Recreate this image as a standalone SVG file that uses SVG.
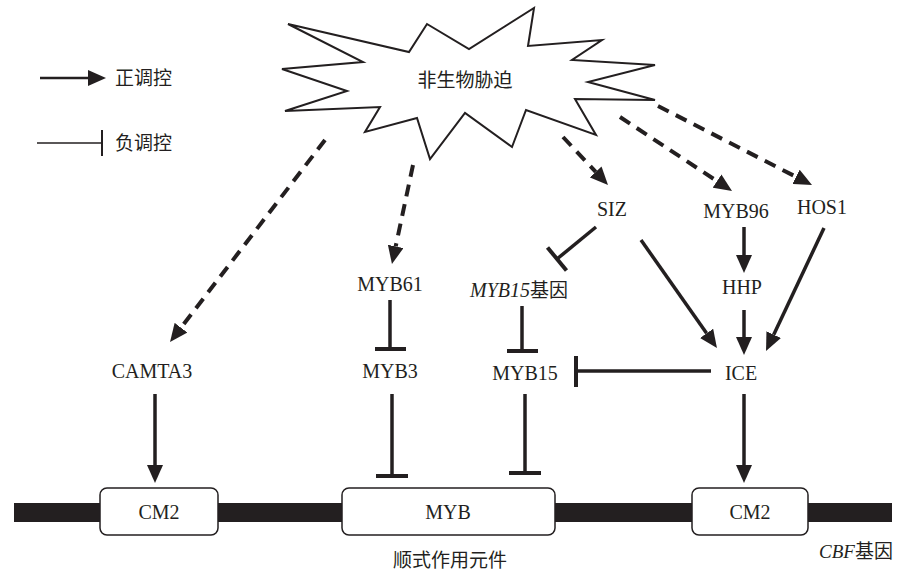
<svg xmlns="http://www.w3.org/2000/svg" width="901" height="578" viewBox="0 0 901 578">
<defs>
<marker id="ah" viewBox="0 0 18 16" refX="0" refY="8" markerWidth="18" markerHeight="16" markerUnits="userSpaceOnUse" orient="auto">
<path d="M0,0 L18,8 L0,16 z" fill="#231f20"/>
</marker>
</defs>
<style>
.lbl{font-family:"Liberation Serif","Noto Sans CJK SC",serif;font-size:20px;fill:#231f20;text-anchor:middle}
.cjk{font-family:"Noto Sans CJK SC","Liberation Sans",sans-serif;font-size:19px;fill:#231f20}
.pos{stroke:#231f20;stroke-width:3.5;fill:none;marker-end:url(#ah)}
.dash{stroke:#231f20;stroke-width:4;fill:none;stroke-dasharray:12 8;marker-end:url(#ah)}
.neg{stroke:#231f20;stroke-width:3.5;fill:none}
.bar{stroke:#231f20;stroke-width:4;fill:none}
.box{fill:#fff;stroke:#231f20;stroke-width:1.5}
</style>
<rect width="901" height="578" fill="#fff"/>

<g id="legend">
<line x1="40" y1="78" x2="89" y2="78" stroke="#231f20" stroke-width="2.5"/>
<path d="M88,70 L106,78 L88,86 z" fill="#231f20"/>
<text x="115" y="85" class="cjk">正调控</text>
<line x1="37" y1="143" x2="102" y2="143" stroke="#231f20" stroke-width="1.5"/>
<line x1="102" y1="130" x2="102" y2="156" stroke="#231f20" stroke-width="2"/>
<text x="115" y="150" class="cjk">负调控</text>
</g>

<g id="stress">
<polygon points="288,24 409,52 427,24 469,49 534,8 528,46 602,40 572,60 655,65 588,82 655,100 575,99 596,135 526,110 512,147 465,113 430,159 417,118 365,132 380,107 285,111 347,91 282,69 363,62" fill="#fff" stroke="#231f20" stroke-width="2" stroke-linejoin="miter"/>
<text x="465" y="87" class="cjk" font-size="20" text-anchor="middle">非生物胁迫</text>
</g>

<g id="dna">
<rect x="14" y="503" width="878" height="19" fill="#231f20"/>
<text x="450" y="567" class="cjk" font-size="18" text-anchor="middle">顺式作用元件</text>
<text x="893" y="558" class="cjk" font-size="18" text-anchor="end"><tspan font-family="Liberation Serif" font-style="italic" font-size="19">CBF</tspan>基因</text>
</g>
<g id="cm2a"><rect x="100" y="488" width="118" height="47" rx="7" class="box"/><text x="159" y="519" class="lbl">CM2</text></g>
<g id="myb"><rect x="342" y="488" width="213" height="47" rx="7" class="box"/><text x="448" y="519" class="lbl">MYB</text></g>
<g id="cm2b"><rect x="692" y="488" width="116" height="47" rx="7" class="box"/><text x="750" y="519" class="lbl">CM2</text></g>

<g id="siz"><text x="612" y="216" class="lbl">SIZ</text></g>
<g id="myb96"><text x="736" y="218" class="lbl">MYB96</text></g>
<g id="hos1"><text x="822" y="214" class="lbl">HOS1</text></g>
<g id="myb61"><text x="390" y="291" class="lbl">MYB61</text></g>
<g id="myb15gene"><text x="519" y="297" class="lbl"><tspan font-style="italic">MYB15</tspan><tspan font-family="Noto Sans CJK SC" font-size="19">基因</tspan></text></g>
<g id="hhp"><text x="742" y="294" class="lbl">HHP</text></g>
<g id="camta3"><text x="152" y="378" class="lbl">CAMTA3</text></g>
<g id="myb3"><text x="390" y="378" class="lbl">MYB3</text></g>
<g id="myb15"><text x="525" y="380" class="lbl">MYB15</text></g>
<g id="ice"><text x="741" y="380" class="lbl">ICE</text></g>

<g id="connectors">
<line x1="325" y1="140" x2="181" y2="327.7" class="dash"/>
<line x1="413" y1="165" x2="395.7" y2="246.4" class="dash"/>
<line x1="563" y1="137" x2="595.7" y2="171.9" class="dash"/>
<line x1="620" y1="117" x2="717" y2="181.1" class="dash"/>
<line x1="658" y1="106" x2="796" y2="176.8" class="dash"/>

<line x1="641" y1="240" x2="706.6" y2="333.3" class="pos"/>
<line x1="744" y1="227" x2="744" y2="255" class="pos"/>
<line x1="744" y1="310" x2="744" y2="337" class="pos"/>
<line x1="824" y1="228" x2="773.7" y2="334.7" class="pos"/>
<line x1="744" y1="394" x2="744" y2="465" class="pos"/>
<line x1="155" y1="394" x2="155" y2="465" class="pos"/>

<line x1="596" y1="227" x2="557" y2="259" class="neg"/>
<line x1="547.5" y1="247.4" x2="566.5" y2="270.6" class="bar"/>
<line x1="390" y1="300" x2="390" y2="349" class="neg"/>
<line x1="375" y1="349" x2="406" y2="349" class="bar"/>
<line x1="522" y1="306" x2="522" y2="351" class="neg"/>
<line x1="507" y1="351" x2="538" y2="351" class="bar"/>
<line x1="711" y1="371" x2="576" y2="371" class="neg"/>
<line x1="576" y1="356" x2="576" y2="387" class="bar"/>
<line x1="392" y1="394" x2="392" y2="476" class="neg"/>
<line x1="376" y1="476" x2="408" y2="476" class="bar"/>
<line x1="525" y1="394" x2="525" y2="473" class="neg"/>
<line x1="509" y1="473" x2="541" y2="473" class="bar"/>
</g>
</svg>
